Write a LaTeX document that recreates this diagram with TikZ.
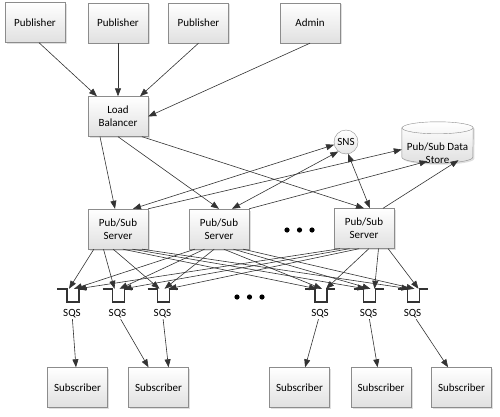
\documentclass[tikz,border=0pt]{standalone}
\usepackage{fontspec}
\setmainfont{Carlito}
\usetikzlibrary{arrows.meta,calc,positioning,shadows}
\tikzset{
  box/.style={draw=black!45, top color=white, bottom color=black!12,
    minimum width=60pt, minimum height=40pt, align=center, inner sep=1pt,
    drop shadow={shadow xshift=1.5pt,shadow yshift=-1.5pt,fill=black!25}},
  tip/.tip={Triangle[length=8pt,width=6pt]},
  link/.style={draw=black!80, line width=0.6pt, -tip},
  both/.style={link, tip-tip},
  qbox/.style={minimum width=30pt, minimum height=13pt, inner sep=0pt},
  qline/.style={draw=black!80, line width=1.7pt},
  sqs/.style={inner sep=1pt},
}
\begin{document}
\begin{tikzpicture}[x=1pt,y=-1pt,every node/.style={font=\fontsize{11}{13}\selectfont}]
  \useasboundingbox (0,0) rectangle (500,417);
  % top row
  \node[box] (pub1) at (35,22.5) {Publisher};
  \node[box] (pub2) at (118,23) {Publisher};
  \node[box] (pub3) at (198.5,23) {Publisher};
  \node[box] (admin) at (310,23) {Admin};
  \node[box] (lb) at (118,116.5) {Load\\Balancer};
  % servers
  \node[box] (srv1) at (118,229) {Pub/Sub\\Server};
  \node[box] (srv2) at (219,229) {Pub/Sub\\Server};
  \node[box] (srv3) at (364,228.5) {Pub/Sub\\Server};
  \node[circle, draw=black!45, top color=white, bottom color=black!10, minimum size=24pt, inner sep=0pt] (sns) at (346,142) {SNS};
  % data store
  \node[minimum width=71pt, minimum height=41pt, inner sep=0pt] (store) at (437.5,142.5) {};
  \path[draw=black!45, top color=white, bottom color=black!12,
    drop shadow={shadow xshift=1.5pt,shadow yshift=-1.5pt,fill=black!25}]
    ([yshift=-6pt]store.north west) -- ([yshift=6pt]store.south west)
    arc[start angle=180, end angle=360, x radius=35.5pt, y radius=6pt]
    -- ([yshift=-6pt]store.north east)
    arc[start angle=0, end angle=180, x radius=35.5pt, y radius=6pt] -- cycle;
  \draw[black!45] ([yshift=-6pt]store.north west)
    arc[start angle=180, end angle=360, x radius=35.5pt, y radius=6pt];
  \node[align=center, inner sep=0pt] at ([yshift=-10.5pt]store.center) {Pub/Sub Data\\Store};
  \foreach \x in {287,299.5,312} \fill[black] (\x,230) circle (2.6pt);
  % queues
  \foreach \q/\x in {q1/72,q2/117.5,q3/162.5,q4/320,q5/368.5,q6/412.5} {
    \node[qbox] (\q) at (\x,295.5) {};
    \draw[qline] ([xshift=-15pt]\q.north) -- ([xshift=-5pt]\q.north) -- ([xshift=-5pt]\q.south)
      -- ([xshift=7pt]\q.south) -- ([xshift=7pt]\q.north) -- ([xshift=15pt]\q.north);
    \node[sqs, below=6pt of \q] (\q l) {SQS};
  }
  \foreach \x in {237,249.5,262} \fill[black] (\x,297) circle (2.6pt);
  % subscribers
  \node[box] (sub1) at (77.5,387.5) {Subscriber};
  \node[box] (sub2) at (158.5,387.5) {Subscriber};
  \node[box] (sub3) at (299.5,387.5) {Subscriber};
  \node[box] (sub4) at (381,387.5) {Subscriber};
  \node[box] (sub5) at (461.5,387.5) {Subscriber};
  % connectors
  \draw[link] ([xshift=4pt]pub1.south) -- ([xshift=-21pt]lb.north);
  \draw[link] (pub2) -- (lb);
  \draw[link] (pub3.south) -- ([xshift=22pt]lb.north);
  \draw[link] (admin.south) -- (lb.east);
  \draw[link] ([xshift=-18pt]lb.south) -- ([xshift=-3pt]srv1.north);
  \draw[link] (lb.south) -- (srv2.north);
  \draw[link] ([xshift=24pt]lb.south) -- (srv3.north);
  \draw[both] ([xshift=15pt]srv1.north) -- (sns.193);
  \draw[both] ([xshift=13pt]srv2.north) -- (sns.231);
  \draw[both] ([xshift=6pt]srv3.north) -- (sns.-80);
  \draw[link] (srv1.north east) -- ([yshift=-7pt]store.west);
  \draw[link] (srv2.north east) -- ([xshift=-10pt,yshift=2pt]store.south);
  \draw[link] ([xshift=19pt]srv3.north) -- ([xshift=21pt,yshift=3pt]store.south);
  \foreach \s/\dx in {srv1/-3,srv2/2,srv3/6}
    \foreach \q/\t in {q1/0.1,q2/0.26,q3/0.42,q4/0.58,q5/0.74,q6/0.9}
      \draw[link] ($(\s.south west)!\t!(\s.south east)$) -- ([xshift=\dx pt]\q.north);
  \draw[link] (q1l) -- (sub1);
  \draw[link] (q2l) -- ([xshift=-10pt]sub2.north);
  \draw[link] (q3l) -- ([xshift=10pt]sub2.north);
  \draw[link] (q4l) -- (sub3);
  \draw[link] (q5l) -- (sub4);
  \draw[link] (q6l) -- (sub5);
\end{tikzpicture}
\end{document}
